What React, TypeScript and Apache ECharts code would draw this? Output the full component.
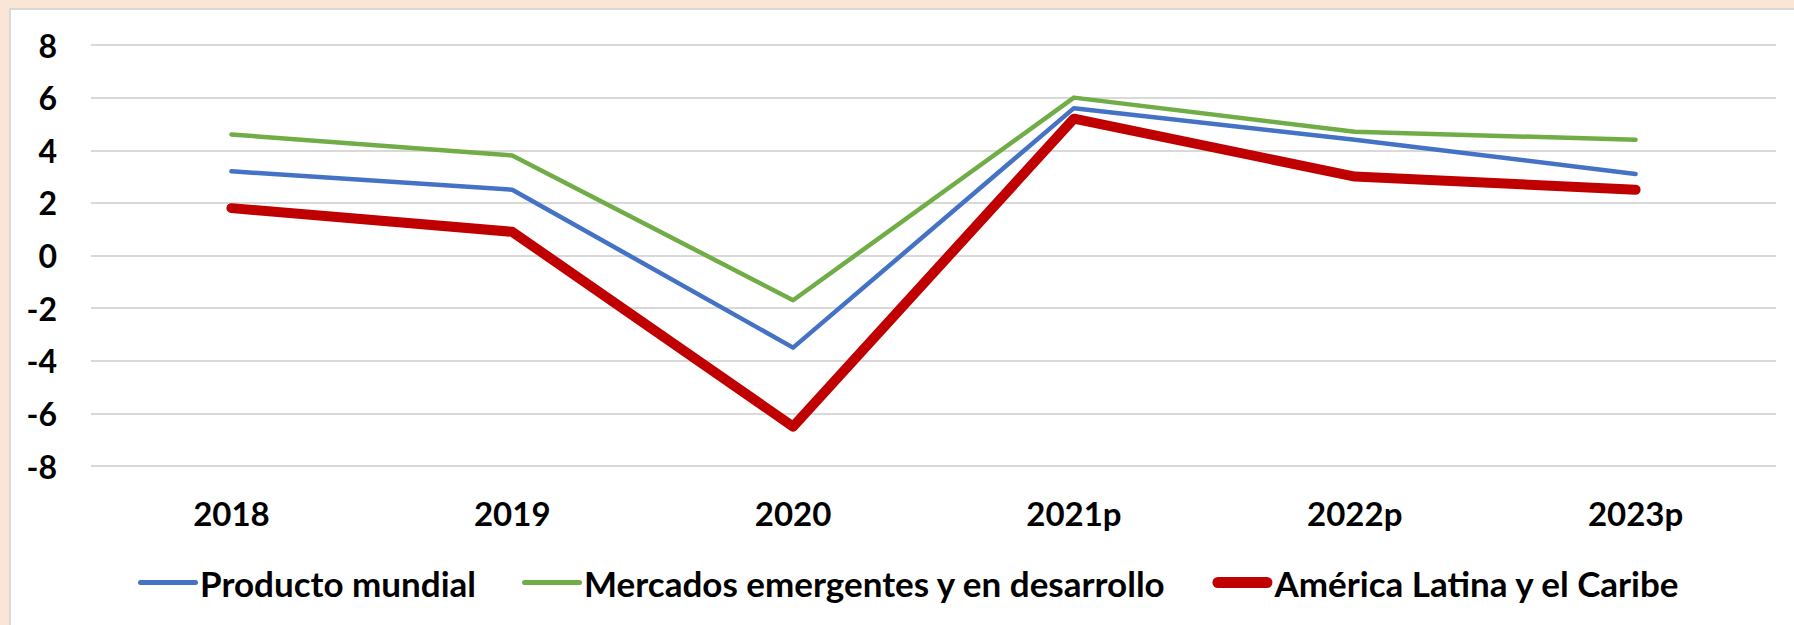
import React, { useEffect, useRef } from "react";
import * as echarts from "echarts";

const categories = ["2018", "2019", "2020", "2021p", "2022p", "2023p"];
const productoMundial = [3.2, 2.5, -3.5, 5.6, 4.4, 3.1];
const mercadosEmergentes = [4.6, 3.8, -1.7, 6.0, 4.7, 4.4];
const americaLatina = [1.8, 0.9, -6.5, 5.2, 3.0, 2.5];
const seriesNames = [
  "Producto mundial",
  "Mercados emergentes y en desarrollo",
  "América Latina y el Caribe",
];

const FONT = "Lato, 'Open Sans', sans-serif";

const thinIcon =
  "path://M2.5,0 L57.5,0 A2.5,2.5 0 0 1 57.5,5 L2.5,5 A2.5,2.5 0 0 1 2.5,0 Z";
const thickIcon =
  "path://M5.5,0 L54.5,0 A5.5,5.5 0 0 1 54.5,11 L5.5,11 A5.5,5.5 0 0 1 5.5,0 Z";

export default function App() {
  const ref = useRef<HTMLDivElement>(null);

  useEffect(() => {
    if (!ref.current) return;
    const chart = echarts.init(ref.current, undefined, { renderer: "svg" });
    chart.setOption({
      animation: false,
      grid: { left: 91, right: 18, top: 45, bottom: 159, containLabel: false },
      xAxis: {
        type: "category",
        data: categories,
        boundaryGap: true,
        axisLine: { show: false, onZero: false },
        axisTick: { show: false },
        axisLabel: {
          fontFamily: FONT,
          fontWeight: "bold",
          fontSize: 33,
          color: "#000",
          margin: 30,
        },
      },
      yAxis: {
        type: "value",
        min: -8,
        max: 8,
        interval: 2,
        axisLine: { show: false },
        axisTick: { show: false },
        splitLine: { lineStyle: { color: "#D9D9D9", width: 2 } },
        axisLabel: {
          fontFamily: FONT,
          fontWeight: "bold",
          fontSize: 32,
          color: "#000",
          margin: 34,
        },
      },
      legend: {
        left: 133,
        top: 560,
        itemWidth: 60,
        itemHeight: 12,
        itemGap: 46,
        textStyle: {
          fontFamily: FONT,
          fontWeight: "bold",
          fontSize: 35,
          color: "#000",
          padding: [0, 0, 0, -3],
        },
        data: [
          { name: seriesNames[0], icon: thinIcon, itemStyle: { color: "#4472C4" } },
          { name: seriesNames[1], icon: thinIcon, itemStyle: { color: "#70AD47" } },
          { name: seriesNames[2], icon: thickIcon, itemStyle: { color: "#C00000" } },
        ],
      },
      series: [
        {
          name: seriesNames[0],
          type: "line",
          data: productoMundial,
          showSymbol: false,
          symbol: "none",
          lineStyle: { color: "#4472C4", width: 4.5, cap: "round", join: "round" },
          itemStyle: { color: "#4472C4" },
          z: 3,
        },
        {
          name: seriesNames[1],
          type: "line",
          data: mercadosEmergentes,
          showSymbol: false,
          symbol: "none",
          lineStyle: { color: "#70AD47", width: 4.5, cap: "round", join: "round" },
          itemStyle: { color: "#70AD47" },
          z: 2,
        },
        {
          name: seriesNames[2],
          type: "line",
          data: americaLatina,
          showSymbol: false,
          symbol: "none",
          lineStyle: { color: "#C00000", width: 10, cap: "round", join: "round" },
          itemStyle: { color: "#C00000" },
          z: 4,
        },
      ],
    });
    return () => chart.dispose();
  }, []);

  return (
    <div
      style={{
        position: "fixed",
        left: 0,
        top: 0,
        width: 1794,
        height: 625,
        background: "#FBE5D6",
        overflow: "hidden",
      }}
    >
      <div
        style={{
          position: "absolute",
          left: 9,
          top: 8,
          right: 0,
          bottom: 0,
          background: "#FFFFFF",
          borderLeft: "2px solid #D9D9D9",
          borderTop: "2px solid #D9D9D9",
        }}
      />
      <div
        ref={ref}
        style={{ position: "absolute", left: 0, top: 0, width: 1794, height: 625 }}
      />
    </div>
  );
}
